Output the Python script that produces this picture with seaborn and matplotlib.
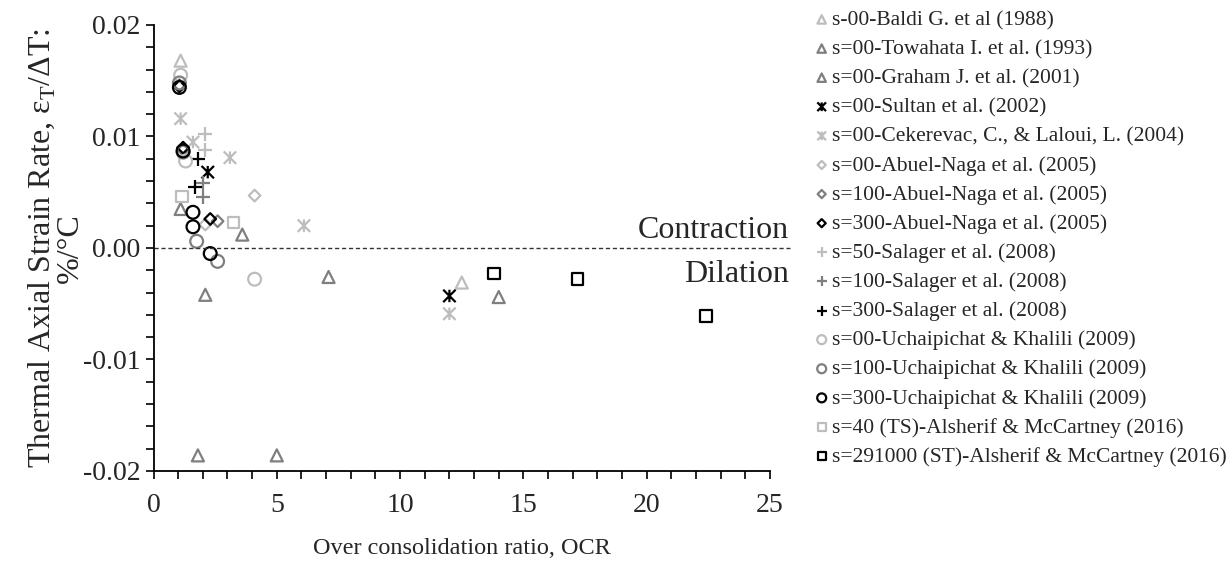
import numpy as np
import pandas as pd
import seaborn as sns
import matplotlib.pyplot as plt
from matplotlib.path import Path
from matplotlib.ticker import MultipleLocator, FormatStrFormatter

# 데이터
baldi_x = [1.1, 12.5]
baldi_y = [0.0168, -0.0031]
towahata_x = [1.1, 3.6, 2.1, 7.1]
towahata_y = [0.0035, 0.0012, -0.0042, -0.0026]
graham_x = [1.8, 5.0, 14.0]
graham_y = [-0.0186, -0.0186, -0.0044]
sultan_x = [2.2, 12.0]
sultan_y = [0.0068, -0.0043]
cekerevac_x = [1.1, 1.6, 3.1, 6.1, 12.0]
cekerevac_y = [0.0116, 0.0095, 0.0081, 0.0020, -0.0059]
abuel0_x = [4.1, 2.1]
abuel0_y = [0.0047, 0.0021]
abuel100_x = [1.05, 1.2, 2.6]
abuel100_y = [0.0146, 0.0088, 0.0024]
abuel300_x = [1.05, 1.2, 2.3]
abuel300_y = [0.0145, 0.0090, 0.0026]
salager50_x = [2.1, 2.1]
salager50_y = [0.0102, 0.0088]
salager100_x = [2.0, 2.0]
salager100_y = [0.0058, 0.0046]
salager300_x = [1.8, 1.7]
salager300_y = [0.0080, 0.0055]
uch0_x = [1.1, 1.3, 4.1]
uch0_y = [0.0155, 0.0078, -0.0028]
uch100_x = [1.05, 1.2, 1.75, 2.6]
uch100_y = [0.0148, 0.0086, 0.0006, -0.0012]
uch300_x = [1.05, 1.2, 1.6, 1.6, 2.3]
uch300_y = [0.0144, 0.0087, 0.0032, 0.0019, -0.0005]
ts_x = [1.15, 3.25]
ts_y = [0.0046, 0.0023]
st_x = [13.8, 17.2, 22.4]
st_y = [-0.0023, -0.0028, -0.0061]

LIGHT = '#bdbdbd'
MID = '#7f7f7f'
BLACK = '#000000'

# 엑셀식 별표 마커 (X + 세로선)
AST = Path([(-1, -1), (1, 1), (-1, 1), (1, -1), (0, -1), (0, 1)],
           [Path.MOVETO, Path.LINETO, Path.MOVETO, Path.LINETO, Path.MOVETO, Path.LINETO])

# (라벨, x, y, 마커, 색, 크기)
series = [
    ('s-00-Baldi G. et al (1988)', baldi_x, baldi_y, '^', LIGHT, 75),
    ('s=00-Towahata I. et al. (1993)', towahata_x, towahata_y, '^', MID, 75),
    ('s=00-Graham J. et al. (2001)', graham_x, graham_y, '^', MID, 75),
    ('s=00-Sultan et al. (2002)', sultan_x, sultan_y, AST, BLACK, 80),
    ('s=00-Cekerevac, C., & Laloui, L. (2004)', cekerevac_x, cekerevac_y, AST, LIGHT, 80),
    ('s=00-Abuel-Naga et al. (2005)', abuel0_x, abuel0_y, 'D', LIGHT, 35),
    ('s=100-Abuel-Naga et al. (2005)', abuel100_x, abuel100_y, 'D', MID, 35),
    ('s=300-Abuel-Naga et al. (2005)', abuel300_x, abuel300_y, 'D', BLACK, 35),
    ('s=50-Salager et al. (2008)', salager50_x, salager50_y, '+', LIGHT, 90),
    ('s=100-Salager et al. (2008)', salager100_x, salager100_y, '+', MID, 90),
    ('s=300-Salager et al. (2008)', salager300_x, salager300_y, '+', BLACK, 90),
    ('s=00-Uchaipichat & Khalili (2009)', uch0_x, uch0_y, 'o', LIGHT, 85),
    ('s=100-Uchaipichat & Khalili (2009)', uch100_x, uch100_y, 'o', MID, 85),
    ('s=300-Uchaipichat & Khalili (2009)', uch300_x, uch300_y, 'o', BLACK, 85),
    ('s=40 (TS)-Alsherif & McCartney (2016)', ts_x, ts_y, 's', LIGHT, 70),
    ('s=291000 (ST)-Alsherif & McCartney (2016)', st_x, st_y, 's', BLACK, 70),
]

sns.set_style('white')
plt.rcParams['font.family'] = ['Liberation Serif', 'DejaVu Serif']
plt.rcParams['mathtext.fontset'] = 'custom'
plt.rcParams['mathtext.rm'] = 'Liberation Serif'

fig = plt.figure(figsize=(12.3, 5.65), dpi=100)
ax = fig.add_axes([0.1248, 0.1664, 0.5012, 0.7894])

for label, xs, ys, mk, col, size in series:
    df = pd.DataFrame({'x': xs, 'y': ys})
    if isinstance(mk, str) and mk == '+':
        sns.scatterplot(data=df, x='x', y='y', ax=ax, marker=mk, s=size,
                        color=col, linewidth=1.6, label=label)
    else:
        sns.scatterplot(data=df, x='x', y='y', ax=ax, marker=mk, s=size,
                        facecolor='none', edgecolor=col, linewidth=1.6,
                        label=label)

# 수축/팽창 경계선
ax.plot([0, 25.8], [0, 0], ls=(0, (3, 2)), color='#333333', lw=1,
        clip_on=False, zorder=1)
ax.text(25.78, 0.0016, 'Contraction', fontsize=23, ha='right', va='center')
ax.text(25.78, -0.0024, 'Dilation', fontsize=23, ha='right', va='center')

ax.set_xlim(0, 25)
ax.set_ylim(-0.02, 0.02)
ax.xaxis.set_major_locator(MultipleLocator(5))
ax.xaxis.set_minor_locator(MultipleLocator(1))
ax.yaxis.set_major_locator(MultipleLocator(0.01))
ax.yaxis.set_minor_locator(MultipleLocator(0.002))
ax.yaxis.set_major_formatter(FormatStrFormatter('%.2f'))
ax.tick_params(which='both', direction='out', length=6, width=1.2,
               color='black', labelsize=20)
ax.tick_params(which='both', left=True, bottom=True)
ax.tick_params(axis='x', pad=10)

for side in ['top', 'right']:
    ax.spines[side].set_visible(False)
for side in ['left', 'bottom']:
    ax.spines[side].set_color('black')
    ax.spines[side].set_linewidth(1.3)

ax.set_xlabel('Over consolidation ratio, OCR', fontsize=17.5, labelpad=14)
ax.set_ylabel('Thermal Axial Strain Rate, ε$_\\mathregular{T}$/ΔT:\n%/°C',
              fontsize=23, linespacing=0.95)
ax.yaxis.set_label_coords(-0.111, 0.5)

ax.legend(loc='upper left', bbox_to_anchor=(812 / 1230, 1 - 10 / 565),
          bbox_transform=fig.transFigure, frameon=False, fontsize=15.5,
          handletextpad=0.05, handlelength=0.9, labelspacing=0.42,
          markerscale=0.7, borderaxespad=0, borderpad=0)

fig.savefig('out.png', dpi=100)
